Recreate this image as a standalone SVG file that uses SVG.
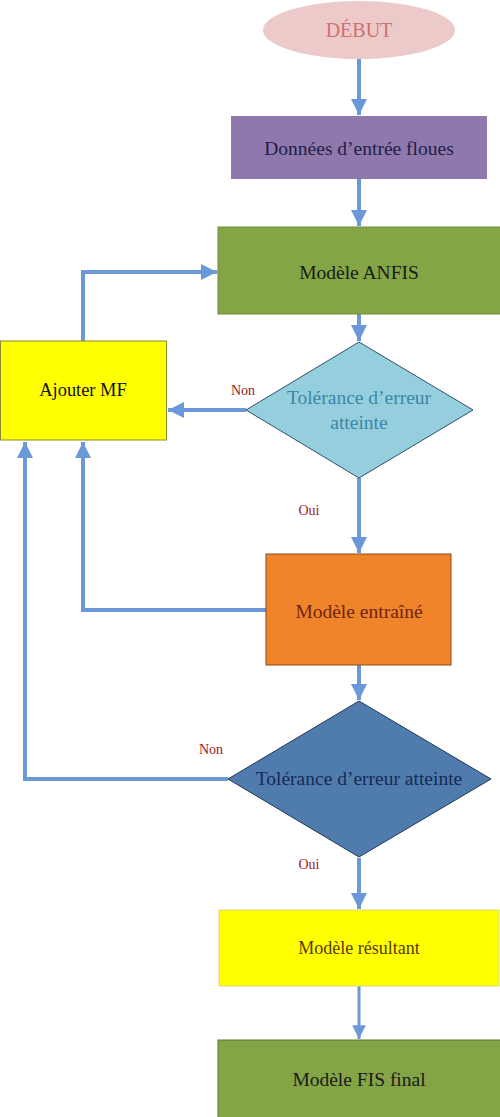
<svg xmlns="http://www.w3.org/2000/svg" width="500" height="1117" viewBox="0 0 500 1117" font-family="Liberation Serif, Times New Roman, serif">
<style>
text{text-anchor:middle}
.lbl{font-size:19.5px}
.yn{font-size:14px;fill:#A01818}
.c{fill:none;stroke:#6A98D8;stroke-width:4}
.c2{fill:none;stroke:#6A98D8;stroke-width:3}
</style>
<defs>
<marker id="ah" viewBox="0 0 10 10" refX="10" refY="5" markerWidth="4.2" markerHeight="4" markerUnits="strokeWidth" orient="auto">
<path d="M0,0 L10,5 L0,10 Z" fill="#6A98D8"/>
</marker>
<marker id="ah2" viewBox="0 0 10 10" refX="10" refY="5" markerWidth="4.6" markerHeight="4.6" markerUnits="strokeWidth" orient="auto">
<path d="M0,0 L10,5 L0,10 Z" fill="#6A98D8"/>
</marker>
</defs>
<rect width="500" height="1117" fill="#FFFFFF"/>
<g id="connectors">
<path class="c" d="M359,59 V115" marker-end="url(#ah)"/>
<path class="c" d="M359,179 V226" marker-end="url(#ah)"/>
<path class="c" d="M359,314 V341" marker-end="url(#ah)"/>
<path class="c" d="M246,410 H168" marker-end="url(#ah)"/>
<path class="c" d="M83,341 V272 H217" marker-end="url(#ah)"/>
<path class="c" d="M359,478 V553" marker-end="url(#ah)"/>
<path class="c" d="M266,610 H83 V442" marker-end="url(#ah)"/>
<path class="c" d="M359,665 V700" marker-end="url(#ah)"/>
<path class="c" d="M228,779 H25 V442" marker-end="url(#ah)"/>
<path class="c" d="M359,858 V909" marker-end="url(#ah)"/>
<path class="c2" d="M359,986 V1039" marker-end="url(#ah2)"/>
</g>
<g id="debut">
<ellipse cx="359" cy="30" rx="96" ry="29" fill="#EDCACA"/>
<text class="lbl" x="359" y="37" fill="#D07070" style="font-size:20px">DÉBUT</text>
</g>
<g id="donnees">
<rect x="231" y="116" width="256" height="63" fill="#8F78AC"/>
<text class="lbl" x="359" y="155" fill="#1E1E48">Données d’entrée floues</text>
</g>
<g id="anfis">
<rect x="218" y="227" width="284" height="87" fill="#84A546" stroke="#6F8C38" stroke-width="1"/>
<text class="lbl" x="359" y="279" fill="#1A1A1A">Modèle ANFIS</text>
</g>
<g id="tol1">
<polygon points="359,342 473,410 359,478 246,410" fill="#95CEDC" stroke="#2F4F6F" stroke-width="1"/>
<text class="lbl" x="359" y="404" fill="#3A88A8">Tolérance d’erreur</text>
<text class="lbl" x="359" y="429" fill="#3A88A8">atteinte</text>
</g>
<g id="ajouter">
<rect x="0.5" y="341" width="166" height="99" fill="#FFFF00" stroke="#8A8A30" stroke-width="1"/>
<text class="lbl" x="83" y="396" fill="#111111" style="font-size:18.4px">Ajouter MF</text>
</g>
<g id="entraine">
<rect x="266" y="554" width="185" height="111" fill="#F0842A" stroke="#8A4A1A" stroke-width="1"/>
<text class="lbl" x="359" y="618" fill="#6E2410">Modèle entraîné</text>
</g>
<g id="tol2">
<polygon points="359,701 491,779 359,857 228,779" fill="#4F7BAD" stroke="#203858" stroke-width="1"/>
<text class="lbl" x="359" y="785" fill="#162B55">Tolérance d’erreur atteinte</text>
</g>
<g id="resultant">
<rect x="219" y="910" width="280" height="76" fill="#FFFF00" stroke="#D8D880" stroke-width="1"/>
<text class="lbl" x="359" y="954" fill="#5A3A00" style="font-size:18px">Modèle résultant</text>
</g>
<g id="fis">
<rect x="218" y="1040" width="284" height="80" fill="#84A546" stroke="#5E7A2E" stroke-width="1"/>
<text class="lbl" x="359" y="1086" fill="#1A1A1A">Modèle FIS final</text>
</g>
<g id="labels">
<text class="yn" x="243" y="395">Non</text>
<text class="yn" x="309" y="515">Oui</text>
<text class="yn" x="211" y="754">Non</text>
<text class="yn" x="309" y="869">Oui</text>
</g>
</svg>
